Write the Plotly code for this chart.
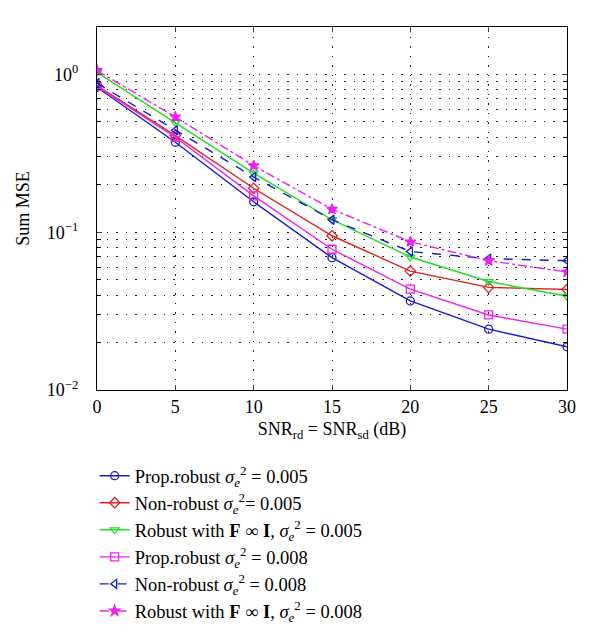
import plotly.graph_objects as go

snr = [0, 5, 10, 15, 20, 25, 30]

prop_robust_005 = [0.83, 0.372, 0.156, 0.069, 0.0367, 0.0243, 0.0188]
non_robust_005 = [0.85, 0.41, 0.19, 0.095, 0.0567, 0.0447, 0.0434]
robust_FI_005 = [1.03, 0.497, 0.237, 0.12, 0.0697, 0.0487, 0.0393]
prop_robust_008 = [0.84, 0.40, 0.17, 0.078, 0.0436, 0.0299, 0.0243]
non_robust_008 = [0.88, 0.443, 0.224, 0.12, 0.0755, 0.068, 0.066]
robust_FI_008 = [1.06, 0.538, 0.264, 0.14, 0.087, 0.066, 0.056]

y_tickvals = [0.01, 0.1, 1]
y_ticktext = ["10<sup>−2</sup>", "10<sup>−1</sup>", "10<sup>0</sup>"]
y_minor_vals = [d * m for d in (0.01, 0.1, 1) for m in range(2, 10) if d * m <= 2.0]

names = [
    "Prop.robust <i>σ</i><sub><i>e</i></sub><sup>2</sup> = 0.005",
    "Non-robust <i>σ</i><sub><i>e</i></sub><sup>2</sup>= 0.005",
    "Robust with <b>F</b> ∞ <b>I</b>, <i>σ</i><sub><i>e</i></sub><sup>2</sup> = 0.005",
    "Prop.robust <i>σ</i><sub><i>e</i></sub><sup>2</sup> = 0.008",
    "Non-robust <i>σ</i><sub><i>e</i></sub><sup>2</sup> = 0.008",
    "Robust with <b>F</b> ∞ <b>I</b>, <i>σ</i><sub><i>e</i></sub><sup>2</sup> = 0.008",
]
series = [prop_robust_005, non_robust_005, robust_FI_005, prop_robust_008, non_robust_008, robust_FI_008]
colors = ["#1a1ad0", "#e02222", "#22e022", "#ee22ee", "#1a1ad0", "#ee22ee"]
symbols = ["circle-open", "diamond-open", "triangle-down-open", "square-open", "triangle-left-open", "star"]
dashes = ["solid", "solid", "solid", "solid", "dash", "dashdot"]

fig = go.Figure()
for name, ys, c, s, d in zip(names, series, colors, symbols, dashes):
    fig.add_trace(go.Scatter(
        x=snr, y=ys, name=name, mode="lines+markers",
        line=dict(color=c, width=1.4, dash=d),
        marker=dict(symbol=s, size=8, color=c, line=dict(color=c, width=1.3)),
    ))

font_family = "Liberation Serif, Times New Roman, serif"
grid_dash = "1.5px,8px"
fig.update_layout(
    width=600, height=634,
    margin=dict(l=89, r=41, t=19, b=245),
    paper_bgcolor="white", plot_bgcolor="white",
    font=dict(family=font_family, size=17, color="black"),
    showlegend=True,
    legend=dict(
        x=-0.005, y=-0.185, xanchor="left", yanchor="top",
        bgcolor="rgba(0,0,0,0)", font=dict(size=18.5),
        itemwidth=30, tracegroupgap=0,
    ),
    xaxis=dict(
        range=[0, 30], tickvals=[0, 5, 10, 15, 20, 25, 30],
        ticks="inside", ticklen=5, mirror="ticks", showline=True,
        linecolor="black", linewidth=1.3,
        showgrid=True, gridcolor="#222", griddash=grid_dash, gridwidth=1.2,
        zeroline=False,
        title=dict(text="SNR<sub>rd</sub> = SNR<sub>sd</sub> (dB)", standoff=6, font=dict(size=18)),
        tickfont=dict(size=18),
    ),
    yaxis=dict(
        type="log", range=[-2, 0.30103],
        tickmode="array", tickvals=y_tickvals, ticktext=y_ticktext,
        ticks="inside", ticklen=5, mirror="ticks", showline=True,
        linecolor="black", linewidth=1.3,
        showgrid=True, gridcolor="#222", griddash=grid_dash, gridwidth=1.2,
        minor=dict(
            tickmode="array", tickvals=y_minor_vals,
            ticks="inside", ticklen=4, tickcolor="black",
            showgrid=True, gridcolor="#222", griddash=grid_dash, gridwidth=1.2,
        ),
        zeroline=False, ticklabelstandoff=14,
        title=dict(text="Sum MSE", standoff=12, font=dict(size=18)),
        tickfont=dict(size=18),
    ),
)

fig.write_html("out.html")
